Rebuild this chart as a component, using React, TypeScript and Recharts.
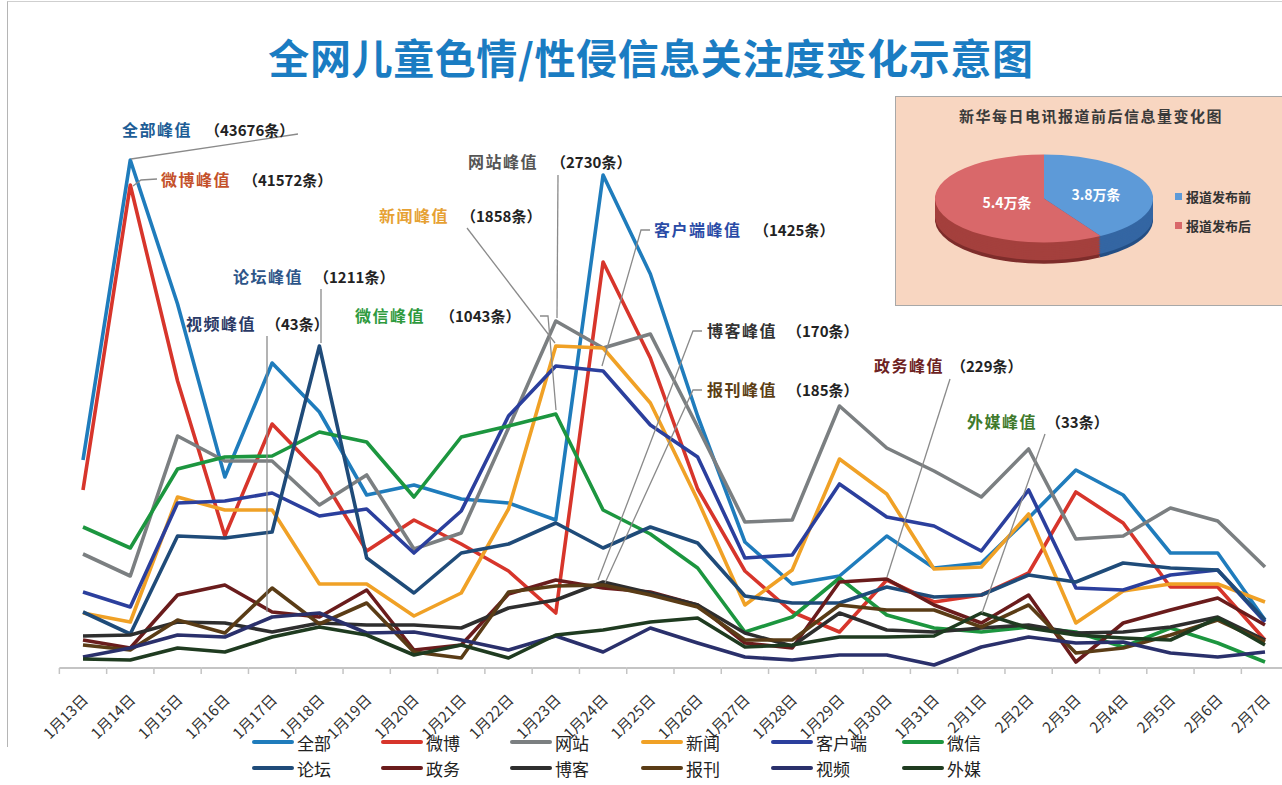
import React from 'react';
import { LineChart, Line, XAxis, YAxis, PieChart, Pie, Cell } from 'recharts';

const FONT = '"Noto Sans CJK SC", "Noto Sans", sans-serif';

const dates = ['1月13日', '1月14日', '1月15日', '1月16日', '1月17日', '1月18日', '1月19日', '1月20日', '1月21日', '1月22日', '1月23日', '1月24日', '1月25日', '1月26日', '1月27日', '1月28日', '1月29日', '1月30日', '1月31日', '2月1日', '2月2日', '2月3日', '2月4日', '2月5日', '2月6日', '2月7日'];

// Relative attention index of each channel (each line is drawn on its own relative scale in the source)
const quanbu = [208, 508, 364, 191, 305, 256, 173, 183, 169, 165, 148, 493, 394, 252, 126, 84, 92, 132, 100, 105, 150, 198, 173, 115, 115, 48];
const weibo = [178, 483, 287, 132, 244, 195, 117, 148, 124, 97, 55, 406, 310, 179, 97, 56, 36, 88, 66, 73, 95, 176, 145, 81, 81, 28];
const wangzhan = [114, 92, 232, 207, 207, 163, 193, 119, 135, 240, 347, 320, 334, 241, 146, 148, 262, 220, 197, 171, 219, 129, 132, 160, 147, 101];
const xinwen = [55, 46, 171, 158, 158, 84, 84, 52, 75, 159, 322, 320, 265, 168, 63, 98, 209, 174, 99, 101, 154, 45, 77, 84, 84, 66];
const kehuduan = [76, 61, 165, 167, 175, 152, 159, 115, 157, 252, 302, 297, 243, 211, 110, 113, 184, 151, 142, 117, 178, 80, 78, 93, 98, 46];
const weixin = [141, 120, 199, 211, 212, 236, 226, 171, 231, 242, 254, 158, 134, 100, 36, 51, 90, 53, 40, 36, 41, 36, 21, 40, 25, 6];
const luntan = [56, 34, 132, 130, 136, 322, 110, 75, 115, 124, 145, 120, 141, 125, 72, 65, 65, 81, 71, 73, 93, 86, 105, 100, 98, 48];
const zhengwu = [28, 20, 73, 83, 56, 51, 78, 18, 23, 74, 88, 80, 76, 63, 25, 20, 86, 89, 63, 45, 73, 6, 45, 58, 70, 43];
const boke = [32, 33, 46, 45, 36, 45, 43, 43, 40, 60, 68, 86, 75, 63, 35, 22, 55, 38, 36, 40, 43, 35, 36, 41, 51, 28];
const baokan = [23, 18, 48, 35, 80, 44, 65, 16, 10, 76, 82, 83, 73, 61, 28, 28, 63, 58, 58, 41, 63, 15, 20, 33, 48, 26];
const shipin = [11, 20, 33, 31, 51, 55, 35, 36, 28, 18, 32, 16, 40, 25, 11, 8, 13, 13, 3, 21, 31, 25, 26, 15, 11, 16];
const waimei = [9, 8, 20, 16, 31, 41, 33, 13, 23, 10, 33, 38, 46, 50, 21, 23, 31, 31, 32, 55, 40, 33, 30, 28, 50, 23];

const seriesNames = ['全部', '微博', '网站', '新闻', '客户端', '微信', '论坛', '政务', '博客', '报刊', '视频', '外媒'];
const seriesValues = [quanbu, weibo, wangzhan, xinwen, kehuduan, weixin, luntan, zhengwu, boke, baokan, shipin, waimei];
const seriesColors = ['#1f7cbc', '#d7352b', '#7b7f81', '#f0a126', '#2b3f9d', '#1c963f', '#1f4b79', '#6a1c1c', '#2e2e2e', '#5a3c16', '#2a306b', '#1f3b20'];

const pieLabels = ['报道发布前', '报道发布后'];
const pieValues = [3.8, 5.4];
const pieValueTexts = ['3.8万条', '5.4万条'];

const rows = dates.map((d, i) => {
  const r: any = { date: d };
  seriesNames.forEach((n, k) => { r[n] = seriesValues[k][i]; });
  return r;
});
const pieData = pieLabels.map((n, i) => ({ name: n, value: pieValues[i] }));

const PLOT_W = 1182;
const STEP = PLOT_W / (dates.length - 1);

function XTick(props: any) {
  const { x, y, payload, index } = props;
  const h = STEP / 2;
  const last = index === dates.length - 1;
  const ex = x + 6;
  const ey = y + 33;
  return (
    <g>
      <line x1={x - h} x2={x + h} y1={y} y2={y} stroke="#c4c4c4" strokeWidth={2} />
      <line x1={x - h} x2={x - h} y1={y} y2={y + 6} stroke="#c4c4c4" strokeWidth={1.5} />
      {last && <line x1={x + h} x2={x + h} y1={y} y2={y + 6} stroke="#c4c4c4" strokeWidth={1.5} />}
      <text x={ex} y={ey} transform={`rotate(-45 ${ex} ${ey})`} textAnchor="end" fontSize={15} fill="#333" fontFamily={FONT}>{payload.value}</text>
    </g>
  );
}

const annotations = [
  { label: '全部峰值', count: '（43676条）', color: '#1d5d96', x: 122, y: 136, px: 205, path: '131,159 298,134' },
  { label: '微博峰值', count: '（41572条）', color: '#c4512a', x: 161, y: 186, px: 243, path: '157,179 141,180 133,186' },
  { label: '网站峰值', count: '（2730条）', color: '#555555', x: 468, y: 168, px: 551, path: '558,175 557,318' },
  { label: '新闻峰值', count: '（1858条）', color: '#e6a133', x: 379, y: 222, px: 461, path: '467,228 555,343' },
  { label: '论坛峰值', count: '（1211条）', color: '#2d5588', x: 233, y: 283, px: 314, path: '321,289 321,343' },
  { label: '视频峰值', count: '（43条）', color: '#2b3a66', x: 186, y: 330, px: 266, path: '267,336 267,612' },
  { label: '微信峰值', count: '（1043条）', color: '#2f9a3e', x: 355, y: 322, px: 440, path: '540,316 548,316 556,410' },
  { label: '客户端峰值', count: '（1425条）', color: '#2a4ba6', x: 654, y: 236, px: 754, path: '650,230 641,230 602,366' },
  { label: '博客峰值', count: '（170条）', color: '#333333', x: 707, y: 337, px: 787, path: '702,331 693,331 598,580' },
  { label: '报刊峰值', count: '（185条）', color: '#5c3e14', x: 707, y: 396, px: 787, path: '702,390 693,390 605,583' },
  { label: '政务峰值', count: '（229条）', color: '#6d2222', x: 874, y: 372, px: 951, path: '950,379 887,577' },
  { label: '外媒峰值', count: '（33条）', color: '#3f7a2c', x: 967, y: 428, px: 1046, path: '1045,434 982,613' },
];

export default function App() {
  const layers = [12, 11, 10, 9, 8, 7, 6, 5, 4, 3, 2, 1];
  return (
    <div style={{ position: 'fixed', left: 0, top: 0, width: 1282, height: 785, overflow: 'hidden', background: '#fff', fontFamily: FONT }}>
      <div style={{ position: 'absolute', left: 7, top: 1, width: 1300, height: 745, borderLeft: '1px solid #b5b5b5', borderTop: '1px solid #cfcfcf' }} />
      <div style={{ position: 'absolute', left: 0, top: 0 }}>
        <LineChart width={1282} height={785} data={rows} margin={{ top: 68, right: 17, bottom: 0, left: 83 }}>
          <XAxis dataKey="date" interval={0} height={117} axisLine={false} tickLine={false} tickSize={0} tickMargin={0} tick={<XTick />} />
          <YAxis hide domain={[0, 600]} allowDataOverflow />
          {seriesNames.map((n, k) => (
            <Line key={n} dataKey={n} type="linear" stroke={seriesColors[k]} strokeWidth={3.6} dot={false} isAnimationActive={false} strokeLinejoin="round" />
          ))}
        </LineChart>
      </div>

      <svg width={1282} height={785} style={{ position: 'absolute', left: 0, top: 0, pointerEvents: 'none' }}>
        <text x={651} y={74} textAnchor="middle" fontSize={41} fontWeight={700} letterSpacing={0.6} fill="#1a7cc2" fontFamily={FONT}>全网儿童色情/性侵信息关注度变化示意图</text>
        {annotations.map((a, i) => (
          <g key={i}>
            <polyline points={a.path} fill="none" stroke="#8a8a8a" strokeWidth={1.3} />
            <text x={a.x} y={a.y} fontSize={16} fontWeight={700} fill={a.color} letterSpacing={1.5} fontFamily={FONT}>{a.label}</text>
            <text x={a.px} y={a.y} fontSize={15} fontWeight={700} fill="#222" fontFamily={FONT}>{a.count}</text>
          </g>
        ))}
      </svg>

      {/* inset */}
      <div style={{ position: 'absolute', left: 895, top: 96, width: 400, height: 208, background: '#f8d6c1', border: '1px solid #a8a8a8' }} />
      <div style={{ position: 'absolute', left: 895, top: 105, width: 392, textAlign: 'center', fontSize: 15, fontWeight: 700, color: '#3a3a3a', letterSpacing: 1.5 }}>新华每日电讯报道前后信息量变化图</div>
      <div style={{ position: 'absolute', left: 924, top: 152, width: 240, height: 300, transform: 'scaleY(0.4037)', transformOrigin: 'top left' }}>
        <PieChart width={240} height={300} margin={{ top: 0, right: 0, bottom: 0, left: 0 }}>
          {layers.map((k) => (
            <Pie key={k} data={pieData} dataKey="value" cx={120} cy={115 + k * 4.4} outerRadius={109} startAngle={90} endAngle={-270} isAnimationActive={false} stroke="none">
              {pieData.map((d, i) => <Cell key={i} fill={i === 0 ? (k > 10 ? '#244f85' : '#3466a3') : (k > 10 ? '#7e2d2b' : '#a4403d')} />)}
            </Pie>
          ))}
          <Pie data={pieData} dataKey="value" cx={120} cy={115} outerRadius={109} startAngle={90} endAngle={-270} isAnimationActive={false} stroke="none">
            {pieData.map((d, i) => <Cell key={i} fill={i === 0 ? '#5d9ad8' : '#d9686a'} />)}
          </Pie>
        </PieChart>
      </div>
      <div style={{ position: 'absolute', left: 1066, top: 184, width: 60, textAlign: 'center', color: '#fff', fontSize: 14, fontWeight: 700 }}>{pieValueTexts[0]}</div>
      <div style={{ position: 'absolute', left: 977, top: 192, width: 60, textAlign: 'center', color: '#fff', fontSize: 14, fontWeight: 700 }}>{pieValueTexts[1]}</div>
      {pieLabels.map((n, i) => (
        <div key={n} style={{ position: 'absolute', left: 1175, top: 187 + i * 29, display: 'flex', alignItems: 'center', fontSize: 13, fontWeight: 700, color: '#333' }}>
          <span style={{ display: 'inline-block', width: 7, height: 7, background: i === 0 ? '#5d9ad8' : '#d9686a', marginRight: 4 }} />
          {n}
        </div>
      ))}

      {/* legend */}
      {seriesNames.map((n, k) => {
        const col = k % 6;
        const row = Math.floor(k / 6);
        const left = [252, 381, 510, 641, 771, 902][col];
        return (
          <div key={n} style={{ position: 'absolute', left, top: 731 + row * 26, display: 'flex', alignItems: 'center', fontSize: 17, color: '#222', height: 22 }}>
            <span style={{ display: 'inline-block', width: 42, height: 4, background: seriesColors[k], marginRight: 3, borderRadius: 2 }} />
            {n}
          </div>
        );
      })}
    </div>
  );
}
